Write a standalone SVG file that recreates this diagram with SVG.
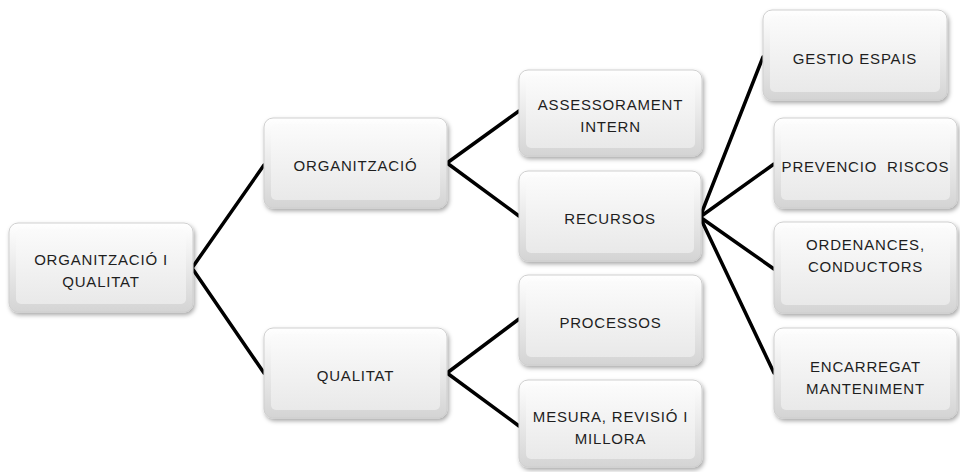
<svg xmlns="http://www.w3.org/2000/svg" width="960" height="472" viewBox="0 0 960 472">
<defs>
<linearGradient id="outer" x1="0" y1="0" x2="0" y2="1">
<stop offset="0" stop-color="#ffffff"/>
<stop offset="1" stop-color="#d4d4d4"/>
</linearGradient>
<linearGradient id="inner" x1="0" y1="0" x2="0" y2="1">
<stop offset="0" stop-color="#fbfbfb"/>
<stop offset="1" stop-color="#e9e9e9"/>
</linearGradient>
<filter id="sh" x="-10%" y="-10%" width="125%" height="130%">
<feDropShadow dx="1.5" dy="2.5" stdDeviation="2" flood-color="#000" flood-opacity="0.35"/>
</filter>
</defs>
<style>
.box{fill:url(#outer);stroke:#cfcfcf;stroke-width:1;filter:url(#sh)}
.in{fill:url(#inner);stroke:none}
.t{font-family:"Liberation Sans",Arial,sans-serif;font-size:15px;letter-spacing:0.8px;fill:#1e1e1e;text-anchor:middle}
.c{stroke:#000;stroke-width:3.5;fill:none;stroke-linecap:round;stroke-linejoin:round}
</style>
<rect width="960" height="472" fill="#fff"/>
<g id="connectors">
<path class="c" d="M264,165 L192,268 L264,373"/>
<path class="c" d="M519,111 L447,163 L519,216"/>
<path class="c" d="M519,319 L447,373 L519,426"/>
<path class="c" d="M763,57 L700,217 L774,164 M700,217 L774,269 M700,217 L774,373"/>
</g>
<g id="root">
<rect class="box" x="9" y="223" width="184" height="89" rx="9"/>
<rect class="in" x="16" y="229" width="170" height="75" rx="5"/>
<text class="t" x="101" y="265">ORGANITZACIÓ I</text>
<text class="t" x="101" y="287">QUALITAT</text>
</g>
<g id="organitzacio">
<rect class="box" x="264" y="118" width="183" height="90" rx="9"/>
<rect class="in" x="271" y="124" width="169" height="76" rx="5"/>
<text class="t" x="355.5" y="171">ORGANITZACIÓ</text>
</g>
<g id="qualitat">
<rect class="box" x="264" y="328" width="183" height="90" rx="9"/>
<rect class="in" x="271" y="334" width="169" height="76" rx="5"/>
<text class="t" x="355.5" y="381">QUALITAT</text>
</g>
<g id="assessorament">
<rect class="box" x="519" y="70" width="183" height="86" rx="9"/>
<rect class="in" x="526" y="76" width="169" height="72" rx="5"/>
<text class="t" x="610.5" y="110">ASSESSORAMENT</text>
<text class="t" x="610.5" y="132">INTERN</text>
</g>
<g id="recursos">
<rect class="box" x="519" y="171" width="182" height="90" rx="9"/>
<rect class="in" x="526" y="177" width="168" height="76" rx="5"/>
<text class="t" x="610" y="224">RECURSOS</text>
</g>
<g id="processos">
<rect class="box" x="519" y="275" width="183" height="90" rx="9"/>
<rect class="in" x="526" y="281" width="169" height="76" rx="5"/>
<text class="t" x="610.5" y="328">PROCESSOS</text>
</g>
<g id="mesura">
<rect class="box" x="519" y="380" width="183" height="87" rx="9"/>
<rect class="in" x="526" y="386" width="169" height="73" rx="5"/>
<text class="t" x="610.5" y="422">MESURA, REVISIÓ I</text>
<text class="t" x="610.5" y="444">MILLORA</text>
</g>
<g id="gestio">
<rect class="box" x="763" y="10" width="184" height="90" rx="9"/>
<rect class="in" x="770" y="16" width="170" height="76" rx="5"/>
<text class="t" x="855" y="64">GESTIO ESPAIS</text>
</g>
<g id="prevencio">
<rect class="box" x="774" y="118" width="183" height="90" rx="9"/>
<rect class="in" x="781" y="124" width="169" height="76" rx="5"/>
<text class="t" x="865.5" y="172" xml:space="preserve">PREVENCIO  RISCOS</text>
</g>
<g id="ordenances">
<rect class="box" x="774" y="222" width="183" height="91" rx="9"/>
<rect class="in" x="781" y="228" width="169" height="77" rx="5"/>
<text class="t" x="865.5" y="250">ORDENANCES,</text>
<text class="t" x="865.5" y="272">CONDUCTORS</text>
</g>
<g id="encarregat">
<rect class="box" x="774" y="328" width="183" height="90" rx="9"/>
<rect class="in" x="781" y="334" width="169" height="76" rx="5"/>
<text class="t" x="865.5" y="372">ENCARREGAT</text>
<text class="t" x="865.5" y="394">MANTENIMENT</text>
</g>
</svg>
